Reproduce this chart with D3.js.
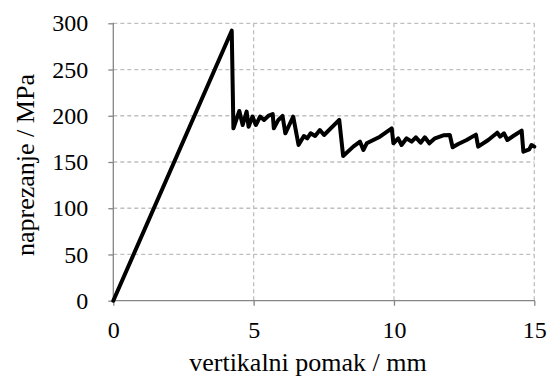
<!DOCTYPE html>
<html><head><meta charset="utf-8">
<script src="https://cdn.jsdelivr.net/npm/d3@7"></script>
<style>body{margin:0;background:#fff}</style>
</head><body>
<svg id="c" width="550" height="380"></svg>
<script>
const xTicks = [0, 5, 10, 15];
const yTicks = [0, 50, 100, 150, 200, 250, 300];
const xLabel = "vertikalni pomak / mm";
const yLabel = "naprezanje / MPa";
const disp = [0, 4.22, 4.28, 4.49, 4.61, 4.75, 4.82, 4.96, 5.08, 5.23, 5.37, 5.52, 5.68, 5.72, 5.88, 6.03, 6.13, 6.27, 6.41, 6.60, 6.79, 6.91, 7.03, 7.19, 7.36, 7.51, 8.05, 8.19, 8.55, 8.79, 8.91, 9.03, 9.50, 9.92, 9.98, 10.15, 10.27, 10.45, 10.63, 10.78, 10.95, 11.10, 11.26, 11.46, 11.76, 11.99, 12.09, 12.29, 12.59, 12.92, 13.00, 13.36, 13.68, 13.78, 13.92, 14.04, 14.25, 14.55, 14.61, 14.82, 14.90, 15.0];
const stress = [0, 292, 186.4, 205.2, 190.0, 204.5, 188.2, 199.1, 190.0, 199.1, 195.5, 199.8, 201.9, 186.4, 195.5, 199.8, 181.0, 190.0, 199.0, 168.4, 178.1, 175.6, 181.0, 178.1, 184.6, 179.2, 195.5, 156.5, 166.6, 172.0, 163.0, 170.2, 177.4, 186.4, 170.2, 175.6, 168.4, 175.6, 172.0, 176.7, 170.9, 176.7, 170.2, 175.6, 178.9, 179.2, 165.9, 169.5, 173.8, 179.6, 166.6, 173.8, 181.7, 177.4, 181.0, 173.8, 178.1, 183.9, 161.2, 163.7, 168.4, 166.6];

const svg = d3.select("#c");
const L = 113.3, R = 534.3, T = 23.3, B = 300.7;
const x = d3.scaleLinear().domain([0, 15]).range([L, R]);
const y = d3.scaleLinear().domain([0, 300]).range([B, T]);
const font = "'Liberation Serif','Times New Roman',serif";
const gridC = "#bfbfbf", axC = "#868686";

// grid
svg.append("g").selectAll("line").data(yTicks.filter(d => d > 0)).join("line")
  .attr("x1", L).attr("x2", R).attr("y1", d => y(d)).attr("y2", d => y(d))
  .attr("stroke", gridC).attr("stroke-width", 1.3).attr("stroke-dasharray", "4,3");
svg.append("g").selectAll("line").data(xTicks.filter(d => d > 0)).join("line")
  .attr("x1", d => x(d)).attr("x2", d => x(d)).attr("y1", T).attr("y2", B)
  .attr("stroke", gridC).attr("stroke-width", 1.3).attr("stroke-dasharray", "4,3");

// axes
const xAxis = d3.axisBottom(x).tickValues(xTicks).tickSize(5).tickPadding(15);
const yAxis = d3.axisLeft(y).tickValues(yTicks).tickSize(5).tickPadding(20);
const gx = svg.append("g").attr("transform", `translate(0,${B})`).call(xAxis);
const gy = svg.append("g").attr("transform", `translate(${L},0)`).call(yAxis);
[gx, gy].forEach(g => {
  g.attr("font-family", null).attr("font-size", null);
  g.select(".domain").attr("stroke", axC).attr("stroke-width", 1.3);
  g.selectAll(".tick line").attr("stroke", axC).attr("stroke-width", 1.3);
  g.selectAll(".tick text").attr("fill", "#000").style("font-family", font).style("font-size", "24px");
});
gx.select(".domain").attr("d", `M${L},0.5V0H${R}V0.5`);
gy.select(".domain").attr("d", `M-0.5,${T}H0V${B}H-0.5`);

// line
const line = d3.line().x((d, i) => x(disp[i])).y((d, i) => y(stress[i]));
svg.append("path").datum(stress).attr("d", line).attr("fill", "none")
  .attr("stroke", "#000").attr("stroke-width", 4).attr("stroke-linejoin", "round").attr("stroke-linecap", "round");

// titles
svg.append("text").attr("x", 308).attr("y", 371).attr("text-anchor", "middle")
  .style("font-family", font).style("font-size", "26px").text(xLabel);
svg.append("text").attr("transform", `translate(34,165) rotate(-90)`).attr("text-anchor", "middle")
  .style("font-family", font).style("font-size", "26px").text(yLabel);
</script>
</body></html>
